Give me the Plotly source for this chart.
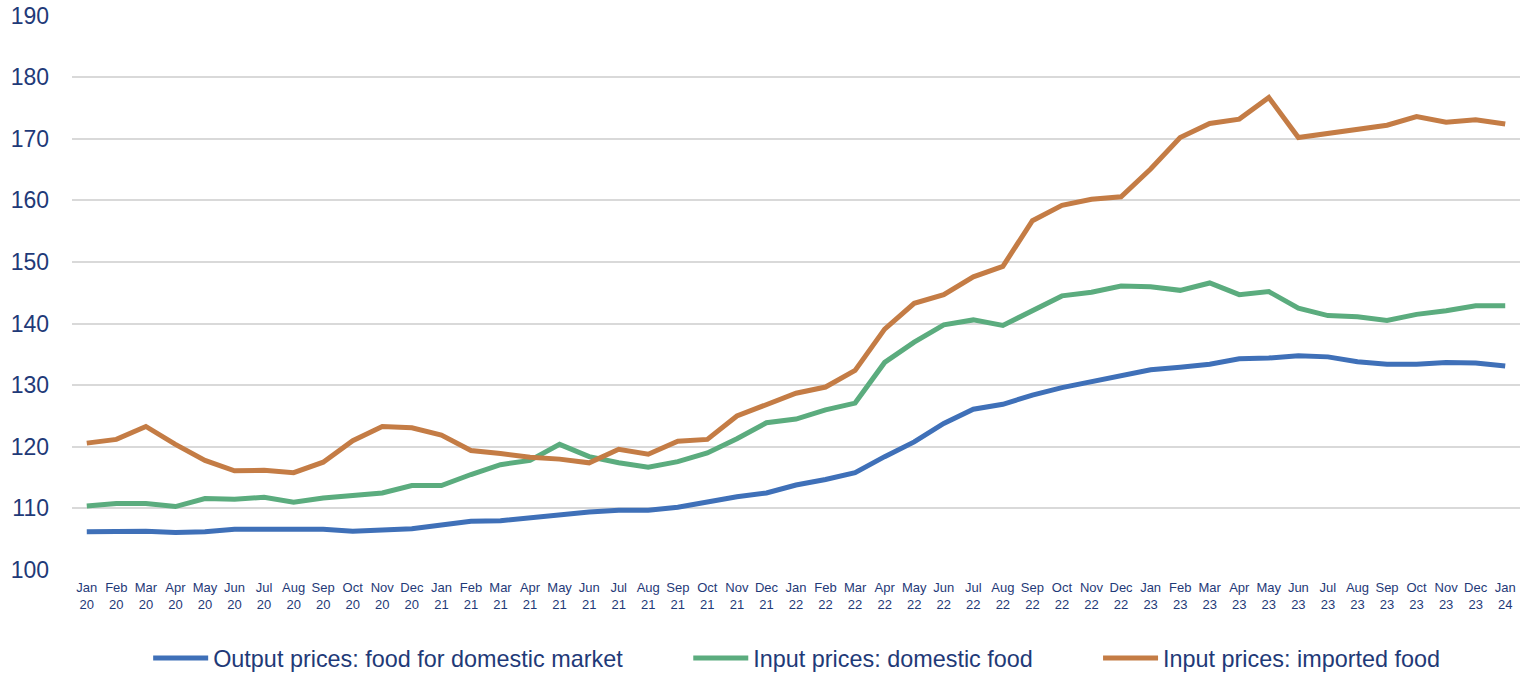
import plotly.graph_objects as go

months = ["Jan", "Feb", "Mar", "Apr", "May", "Jun", "Jul", "Aug", "Sep", "Oct", "Nov", "Dec"]
categories = [f"{m}<br>{y}" for y in ["20", "21", "22", "23"] for m in months] + ["Jan<br>24"]

output_domestic = [106.2, 106.3, 106.3, 106.1, 106.2, 106.6, 106.6, 106.5, 106.6, 106.3, 106.5, 106.7,
                   107.3, 107.9, 108.0, 108.5, 109.1, 109.4, 109.7, 109.7, 110.2, 111.1, 111.9, 112.5,
                   113.8, 114.7, 115.8, 118.4, 120.8, 123.8, 126.1, 126.9, 128.4, 129.6, 130.5, 131.4,
                   132.5, 132.9, 133.4, 134.3, 134.4, 134.8, 134.6, 133.8, 133.4, 133.4, 133.7, 133.6,
                   133.1]
input_domestic = [110.4, 110.8, 110.8, 110.3, 111.6, 111.5, 111.8, 111.0, 111.7, 112.0, 112.5, 113.7,
                  113.7, 115.5, 117.1, 117.8, 120.4, 118.4, 117.4, 116.7, 117.6, 119.0, 121.3, 123.9,
                  124.5, 126.0, 127.1, 133.7, 137.0, 139.8, 140.6, 139.7, 142.1, 144.5, 145.1, 146.1,
                  146.0, 145.4, 146.6, 144.7, 145.2, 142.5, 141.3, 141.1, 140.5, 141.5, 142.1, 142.9,
                  142.9]
input_imported = [120.6, 121.2, 123.3, 120.4, 117.8, 116.1, 116.2, 115.8, 117.5, 121.0, 123.3, 123.1,
                  121.9, 119.4, 118.9, 118.3, 118.0, 117.4, 119.6, 118.8, 120.9, 121.2, 125.0, 126.9,
                  128.7, 129.7, 132.4, 139.1, 143.3, 144.7, 147.6, 149.3, 156.7, 159.2, 160.2, 160.6,
                  165.1, 170.2, 172.5, 173.2, 176.7, 170.2, 170.8, 171.5, 172.2, 173.6, 172.7, 173.1,
                  172.4]

series = [
    ("Output prices: food for domestic market", output_domestic, "#3F70B8", "legend", 0.0526),
    ("Input prices: domestic food", input_domestic, "#5BAC7E", "legend2", 0.4256),
    ("Input prices: imported food", input_imported, "#C47C45", "legend3", 0.7086),
]

text_color = "#1F3A78"
fig = go.Figure()
layout_legends = {}
for name, vals, col, lg, lx in series:
    fig.add_trace(go.Scatter(x=categories, y=vals, name=name, mode="lines", legend=lg,
                             line=dict(color=col, width=5)))
    layout_legends[lg] = dict(orientation="h", x=lx, xanchor="left", y=-0.159, yanchor="middle",
                              font=dict(size=23.4, color=text_color), itemwidth=55,
                              bgcolor="rgba(0,0,0,0)")

fig.update_layout(
    width=1529, height=674,
    margin=dict(l=72, r=9, t=15, b=104, autoexpand=False),
    paper_bgcolor="white", plot_bgcolor="white",
    font=dict(family="Liberation Sans, Arial, sans-serif", color=text_color),
    showlegend=True,
    **layout_legends,
)
fig.update_xaxes(type="category", range=[-0.5, len(categories) - 0.5], automargin=False,
                 showgrid=False, showline=False, zeroline=False,
                 tickfont=dict(size=13, color=text_color), tickangle=0, ticks="",
                 ticklabelstandoff=8)
fig.update_yaxes(range=[100, 190.1], tick0=100, dtick=10, showgrid=True, gridcolor="#D9D9D9",
                 gridwidth=2, zeroline=False, showline=False, ticks="", automargin=False,
                 ticklabeloverflow="allow",
                 tickfont=dict(size=23, color=text_color), ticklabelstandoff=22)

# remove the browser's default 8px body margin so the figure fills the window exactly
fig.write_html("out.html", config={"displayModeBar": False},
               post_script="document.body.style.margin='0';document.body.style.overflow='hidden';")
